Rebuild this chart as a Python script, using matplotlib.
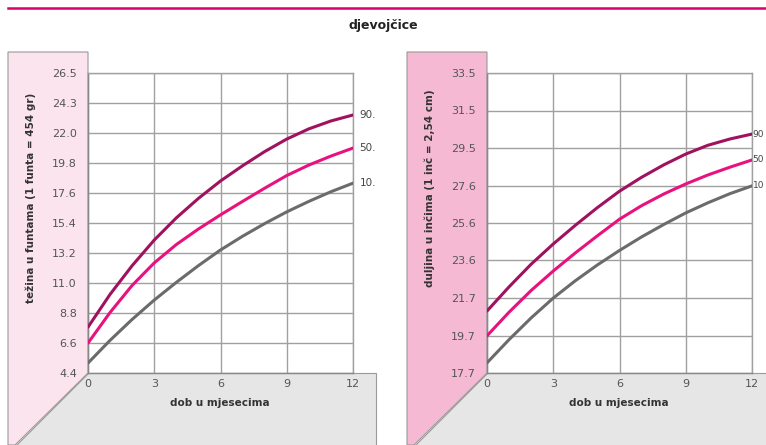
import numpy as np
import matplotlib
matplotlib.use("Agg")
import matplotlib.pyplot as plt
from matplotlib.patches import Polygon

# age in months
months = np.arange(0, 13)

# weight in pounds (left panel)
weight_p90 = [7.78, 10.19, 12.30, 14.18, 15.81, 17.24, 18.52, 19.64, 20.68, 21.60, 22.35, 22.93, 23.37]
weight_p50 = [6.61, 8.86, 10.85, 12.50, 13.85, 14.99, 16.03, 17.02, 17.99, 18.92, 19.69, 20.35, 20.94]
weight_p10 = [5.14, 6.81, 8.35, 9.77, 11.07, 12.30, 13.45, 14.46, 15.39, 16.25, 17.02, 17.73, 18.36]
weight_ticks = ["4.4", "6.6", "8.8", "11.0", "13.2", "15.4", "17.6", "19.8", "22.0", "24.3", "26.5"]
weight_kg = np.arange(2, 13)  # tick positions are whole kilograms

# length in inches (right panel)
length_p90 = [20.97, 22.24, 23.43, 24.49, 25.47, 26.40, 27.26, 27.99, 28.64, 29.21, 29.67, 30.00, 30.26]
length_p50 = [19.67, 20.91, 22.05, 23.07, 24.02, 24.92, 25.79, 26.50, 27.11, 27.64, 28.11, 28.52, 28.90]
length_p10 = [18.25, 19.47, 20.61, 21.65, 22.56, 23.39, 24.15, 24.86, 25.51, 26.12, 26.65, 27.13, 27.54]
length_ticks = ["17.7", "19.7", "21.7", "23.6", "25.6", "27.6", "29.5", "31.5", "33.5"]
length_cm = np.arange(45, 90, 5)

x_ticks = [0, 3, 6, 9, 12]
pct_left = ["90.", "50.", "10."]
pct_right = ["90", "50", "10"]

c90 = "#a0125e"
c50 = "#e8127f"
c10 = "#6b6b6b"
grid_c = "#a0a0a0"

W, H = 766, 445
fig = plt.figure(figsize=(W / 100, H / 100), dpi=100)


def px(x, y):
    return (x / W, 1 - y / H)


def poly(pts, fc, ec="none", lw=0.0):
    p = Polygon([px(a, b) for a, b in pts], closed=True, transform=fig.transFigure,
                facecolor=fc, edgecolor=ec, linewidth=lw, zorder=-1)
    fig.patches.append(p)


# top rule and title
fig.add_artist(plt.Line2D([8 / W, 1], [1 - 8 / H, 1 - 8 / H], transform=fig.transFigure,
                          color="#d9006c", linewidth=1.8))
fig.text(383 / W, 1 - 25 / H, "djevojčice", ha="center", va="center",
         fontsize=9, fontweight="bold", color="#222222")


def panel(x0, pink, right_edge, ylab, ylab_y):
    # pink side strip with diagonal cut and gray floor
    poly([(x0 - 80, 52), (x0, 52), (x0, 373), (x0 - 73, 445), (x0 - 80, 445)], pink,
         ec="#9a9a9a", lw=0.8)
    poly([(x0, 373), (right_edge, 373), (right_edge, 446), (x0 - 73, 446)], "#e6e6e6",
         ec="#9a9a9a", lw=0.8)
    fig.text((x0 - 57) / W, 1 - ylab_y / H, ylab, rotation=90, ha="center", va="center",
             fontsize=7.5, fontweight="bold", color="#333333")
    fig.text((x0 + 132) / W, 1 - 403 / H, "dob u mjesecima", ha="center", va="center",
             fontsize=7.5, fontweight="bold", color="#333333")


panel(88, "#fbe4ee", 376, "težina u funtama (1 funta = 454 gr)", 198)
panel(487, "#f6b9d3", 780, "duljina u inčima (1 inč = 2,54 cm)", 188)


def chart(x0, series, yticks, ylabels, ylim, lab_dx, labels, lab_fs):
    ax = fig.add_axes([x0 / W, 72 / H, 265 / W, 300 / H])
    ax.set_facecolor("white")
    for vals, col in zip(series, [c90, c50, c10]):
        ax.plot(months, vals, color=col, linewidth=2.2, solid_capstyle="round",
                solid_joinstyle="round", zorder=3)
    for vals, lab in zip(series, labels):
        ax.text(12 + lab_dx, vals[-1], lab, ha="left", va="center", fontsize=lab_fs,
                color="#444444", clip_on=False)
    ax.set_xlim(0, 12)
    ax.set_ylim(*ylim)
    ax.set_xticks(x_ticks)
    ax.set_xticklabels([str(t) for t in x_ticks])
    ax.set_yticks(yticks)
    ax.set_yticklabels(ylabels)
    ax.tick_params(length=0, labelsize=8, labelcolor="#555555", pad=4)
    ax.tick_params(axis="y", pad=8)
    ax.grid(True, color=grid_c, linewidth=1.0)
    for s in ax.spines.values():
        s.set_color(grid_c)
        s.set_linewidth(1.0)
    ax.spines["left"].set_color("#888888")
    ax.spines["bottom"].set_color("#888888")
    return ax


w_pos = weight_kg * 2.20462
chart(88, [weight_p90, weight_p50, weight_p10], w_pos, weight_ticks,
      (w_pos[0], w_pos[-1]), 0.3, pct_left, 7.5)

l_pos = length_cm / 2.54
chart(487, [length_p90, length_p50, length_p10], l_pos, length_ticks,
      (l_pos[0], l_pos[-1]), 0.03, pct_right, 6.5)

fig.savefig("out.png", dpi=100)
